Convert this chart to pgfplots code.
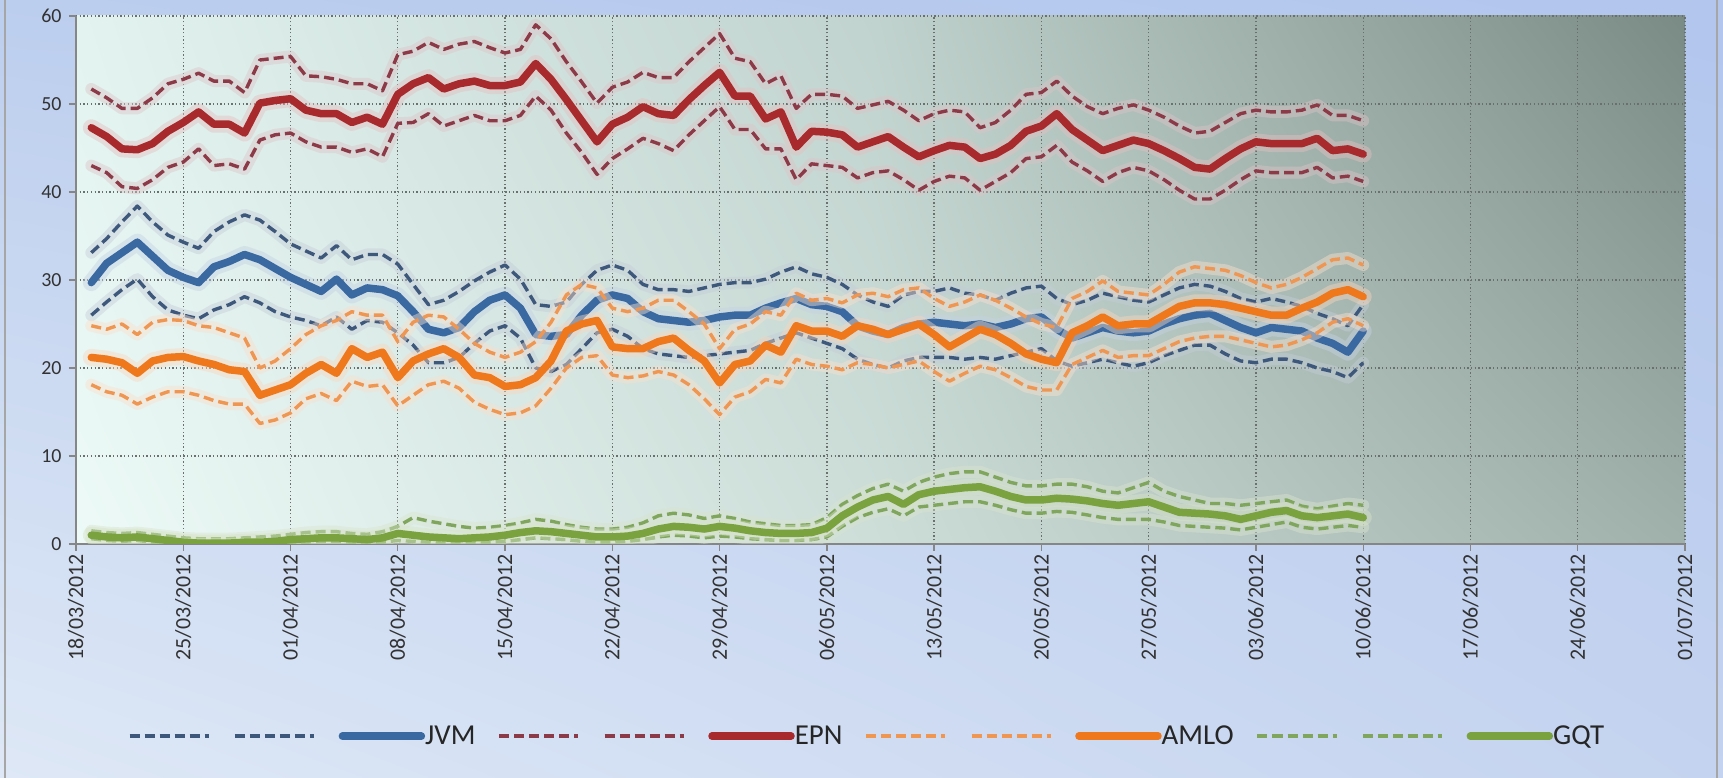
\documentclass[border=0pt]{standalone}
\usepackage{pgfplots}
\pgfplotsset{compat=1.18}
\usepackage{pgfplotstable}
\usetikzlibrary{shadings}
\usepackage{fontspec}
\setmainfont{Carlito}

\definecolor{jvmc}{RGB}{58,105,162}
\definecolor{jvmd}{RGB}{62,88,124}
\definecolor{epnc}{RGB}{168,42,44}
\definecolor{epnd}{RGB}{140,58,72}
\definecolor{amlc}{RGB}{240,120,28}
\definecolor{amld}{RGB}{238,150,82}
\definecolor{gqtc}{RGB}{122,162,62}
\definecolor{gqtd}{RGB}{128,166,94}
\definecolor{axgray}{RGB}{134,134,134}
\definecolor{gridc}{RGB}{105,112,110}
\definecolor{labc}{RGB}{50,50,50}
\definecolor{oUL}{RGB}{188,206,238}
\definecolor{oUR}{RGB}{178,198,238}
\definecolor{oLL}{RGB}{222,232,246}
\definecolor{oLR}{RGB}{196,211,239}
\definecolor{pA}{RGB}{226,243,240}
\definecolor{pB}{RGB}{237,250,247}
\definecolor{pC}{RGB}{193,211,206}
\definecolor{pD}{RGB}{205,222,217}
\definecolor{pE}{RGB}{122,138,132}
\definecolor{pF}{RGB}{160,177,171}

% day 0 = 18/03/2012
\pgfplotstableread{
d up lo mid
1 33.1 26.0 29.7
2 34.7 27.5 31.9
3 36.6 28.9 33.1
4 38.4 30.1 34.3
5 36.6 28.1 32.7
6 35.1 26.6 31.1
7 34.3 26.0 30.3
8 33.6 25.6 29.7
9 35.5 26.6 31.5
10 36.6 27.2 32.1
11 37.4 28.1 32.9
12 36.8 27.4 32.3
13 35.5 26.4 31.3
14 34.1 25.8 30.3
15 33.3 25.4 29.5
16 32.5 24.8 28.7
17 33.9 25.8 30.1
18 32.3 24.4 28.3
19 32.9 25.4 29.1
20 32.9 25.2 28.9
21 31.8 24.0 28.2
22 29.5 22.6 26.4
23 27.2 20.6 24.4
24 27.7 20.6 24.0
25 28.7 21.2 24.6
26 29.9 22.8 26.4
27 30.9 24.2 27.7
28 31.7 24.8 28.3
29 30.1 23.4 26.8
30 27.2 20.0 23.8
31 27.0 19.6 23.6
32 27.5 20.4 23.8
33 29.5 22.2 26.0
34 31.1 24.0 27.7
35 31.7 24.4 28.3
36 31.1 23.6 27.9
37 29.5 22.2 26.4
38 28.9 21.6 25.6
39 28.9 21.4 25.4
40 28.7 21.2 25.2
41 29.1 21.4 25.4
42 29.5 21.6 25.8
43 29.7 21.8 26.0
44 29.7 22.0 26.0
45 30.1 22.8 26.8
46 30.9 23.4 27.4
47 31.5 24.0 27.9
48 30.7 23.4 27.2
49 30.3 22.8 27.0
50 29.5 22.2 26.4
51 28.3 21.0 24.8
52 27.5 20.4 24.2
53 27.0 20.0 23.8
54 28.3 20.8 24.6
55 28.7 21.2 25.0
56 28.7 21.2 25.2
57 29.1 21.2 25.0
58 28.5 21.0 24.8
59 28.3 21.2 25.0
60 27.7 21.0 24.6
61 28.5 21.4 25.0
62 29.1 21.8 25.6
63 29.3 22.2 25.8
64 27.9 20.8 24.4
65 27.2 20.2 23.4
66 27.7 20.6 24.0
67 28.5 21.0 24.6
68 28.1 20.6 24.2
69 27.7 20.2 24.0
70 27.5 20.6 24.2
71 28.3 21.4 25.0
72 29.1 22.0 25.6
73 29.5 22.6 26.0
74 29.3 22.6 26.2
75 28.7 21.6 25.4
76 27.9 20.8 24.6
77 27.5 20.6 24.0
78 27.9 21.0 24.6
79 27.5 21.0 24.4
80 27.0 20.6 24.2
81 26.2 20.0 23.4
82 25.6 19.6 22.8
83 24.8 18.9 21.8
84 27.2 20.6 24.2
}\jvm

\pgfplotstableread{
d up lo mid
1 51.7 43.0 47.3
2 50.7 42.2 46.3
3 49.5 40.6 44.9
4 49.5 40.4 44.8
5 50.7 41.4 45.5
6 52.3 42.8 46.9
7 52.8 43.4 47.9
8 53.5 44.9 49.1
9 52.6 43.0 47.7
10 52.6 43.2 47.7
11 51.3 42.6 46.7
12 55.0 45.9 50.1
13 55.2 46.5 50.4
14 55.4 46.7 50.6
15 53.2 45.7 49.3
16 53.1 45.1 48.9
17 52.8 45.1 48.9
18 52.3 44.5 47.9
19 52.3 44.9 48.5
20 51.5 44.0 47.7
21 55.6 47.8 51.1
22 56.0 47.9 52.3
23 57.0 48.9 53.0
24 56.2 47.5 51.7
25 56.8 48.1 52.3
26 57.1 48.7 52.6
27 56.4 48.1 52.1
28 55.8 48.1 52.1
29 56.2 48.7 52.5
30 59.0 50.9 54.6
31 57.4 49.3 52.8
32 54.8 46.7 50.5
33 52.5 44.5 48.1
34 50.1 42.0 45.7
35 51.9 43.8 47.7
36 52.5 44.9 48.5
37 53.6 46.1 49.7
38 53.0 45.5 48.9
39 53.0 44.7 48.7
40 54.8 46.5 50.5
41 56.4 48.1 52.1
42 58.0 49.7 53.6
43 55.2 47.1 50.9
44 54.8 47.1 50.9
45 52.3 44.9 48.3
46 53.2 44.9 49.1
47 49.5 41.4 45.1
48 51.1 43.2 46.9
49 51.1 43.0 46.8
50 50.9 42.8 46.5
51 49.5 41.6 45.1
52 49.9 42.2 45.7
53 50.3 42.4 46.3
54 49.3 41.4 45.1
55 48.1 40.2 44.0
56 48.9 41.2 44.7
57 49.3 41.8 45.3
58 49.1 41.6 45.1
59 47.3 40.2 43.8
60 47.9 41.2 44.3
61 49.3 42.2 45.3
62 51.1 43.8 46.9
63 51.3 44.0 47.5
64 52.6 45.3 48.9
65 50.9 43.4 47.1
66 49.7 42.4 45.9
67 48.9 41.2 44.7
68 49.5 42.2 45.3
69 49.9 42.8 45.9
70 49.3 42.4 45.5
71 48.5 41.4 44.7
72 47.5 40.2 43.8
73 46.7 39.2 42.8
74 46.9 39.2 42.6
75 47.9 40.2 43.8
76 48.9 41.4 44.9
77 49.3 42.4 45.7
78 49.1 42.2 45.5
79 49.1 42.2 45.5
80 49.3 42.2 45.5
81 49.9 42.8 46.1
82 48.7 41.6 44.7
83 48.7 41.8 44.9
84 48.1 41.2 44.3
}\epn

\pgfplotstableread{
d up lo mid
1 24.8 18.1 21.2
2 24.4 17.3 21.0
3 25.0 16.9 20.6
4 23.8 15.9 19.4
5 25.2 16.7 20.8
6 25.5 17.3 21.2
7 25.4 17.3 21.3
8 24.8 16.9 20.8
9 24.6 16.3 20.4
10 24.0 15.9 19.8
11 23.4 15.9 19.6
12 20.0 13.7 16.9
13 20.8 14.1 17.5
14 22.2 14.9 18.1
15 23.8 16.5 19.4
16 24.8 17.1 20.4
17 25.4 16.3 19.4
18 26.4 18.5 22.2
19 26.0 17.9 21.2
20 26.0 18.1 21.8
21 23.0 15.7 18.9
22 25.2 16.9 20.8
23 26.0 18.1 21.6
24 25.8 18.5 22.2
25 24.4 17.7 21.2
26 22.8 16.1 19.2
27 21.8 15.3 18.9
28 21.2 14.7 17.9
29 21.8 14.9 18.1
30 23.0 15.7 18.9
31 25.2 17.7 20.8
32 28.3 20.0 24.2
33 29.5 21.2 25.0
34 29.1 21.4 25.4
35 26.8 19.2 22.4
36 26.4 18.9 22.2
37 26.8 19.1 22.2
38 27.7 19.6 23.0
39 27.7 19.2 23.4
40 26.4 18.1 22.0
41 25.0 16.5 20.8
42 22.2 14.7 18.3
43 24.4 16.7 20.4
44 25.0 17.3 20.8
45 26.4 18.7 22.6
46 26.0 18.3 21.8
47 28.5 21.0 24.8
48 27.7 20.4 24.2
49 27.9 20.2 24.2
50 27.4 19.8 23.6
51 28.3 20.6 24.8
52 28.5 20.4 24.4
53 28.1 20.0 23.8
54 28.9 20.4 24.4
55 29.1 20.8 25.0
56 27.9 19.6 23.8
57 27.0 18.5 22.4
58 27.5 19.4 23.4
59 28.3 20.2 24.4
60 27.7 19.8 23.8
61 26.8 18.9 22.8
62 25.8 17.9 21.6
63 25.0 17.5 21.0
64 24.6 17.5 20.6
65 27.9 20.4 24.0
66 28.7 21.2 24.8
67 29.9 22.0 25.8
68 28.7 21.2 24.8
69 28.5 21.4 25.0
70 28.3 21.4 25.0
71 29.5 22.2 26.0
72 30.9 23.0 27.0
73 31.5 23.4 27.4
74 31.3 23.6 27.4
75 31.1 23.6 27.2
76 30.5 23.2 26.8
77 29.7 22.8 26.4
78 29.1 22.4 26.0
79 29.5 22.6 26.0
80 30.3 23.2 26.8
81 31.3 24.0 27.5
82 32.3 25.2 28.5
83 32.5 25.6 28.9
84 31.7 24.8 28.1
}\aml

\pgfplotstableread{
d up lo mid
1 1.5 0.6 1.0
2 1.3 0.4 0.8
3 1.2 0.3 0.7
4 1.3 0.4 0.8
5 1.1 0.2 0.6
6 0.9 0.1 0.4
7 0.7 0.0 0.2
8 0.6 0.0 0.1
9 0.6 0.0 0.1
10 0.6 0.0 0.1
11 0.7 0.0 0.2
12 0.8 0.0 0.2
13 0.9 0.0 0.3
14 1.1 0.1 0.5
15 1.3 0.2 0.6
16 1.4 0.3 0.7
17 1.4 0.3 0.7
18 1.2 0.2 0.6
19 1.1 0.1 0.5
20 1.4 0.2 0.7
21 2.0 0.4 1.2
22 3.0 0.3 1.0
23 2.6 0.2 0.8
24 2.3 0.1 0.7
25 2.0 0.1 0.6
26 1.8 0.1 0.7
27 1.9 0.2 0.8
28 2.1 0.3 1.0
29 2.4 0.5 1.3
30 2.8 0.7 1.5
31 2.6 0.6 1.4
32 2.2 0.5 1.2
33 1.9 0.3 1.0
34 1.7 0.2 0.8
35 1.7 0.2 0.8
36 1.9 0.3 0.9
37 2.4 0.5 1.2
38 3.2 0.8 1.7
39 3.5 1.0 2.0
40 3.3 0.9 1.9
41 2.9 0.7 1.7
42 3.2 0.9 2.0
43 2.9 0.8 1.8
44 2.5 0.6 1.5
45 2.3 0.5 1.3
46 2.1 0.4 1.2
47 2.1 0.4 1.2
48 2.2 0.5 1.3
49 3.0 0.8 1.8
50 4.5 2.0 3.2
51 5.5 3.0 4.2
52 6.3 3.6 5.0
53 6.8 4.0 5.4
54 6.0 3.2 4.5
55 7.0 4.2 5.6
56 7.6 4.4 6.0
57 8.0 4.6 6.2
58 8.2 4.8 6.4
59 8.2 4.8 6.5
60 7.6 4.4 6.0
61 7.0 3.9 5.4
62 6.6 3.5 5.0
63 6.6 3.5 5.0
64 6.8 3.7 5.2
65 6.8 3.6 5.1
66 6.5 3.3 4.9
67 6.0 3.0 4.6
68 5.8 2.8 4.4
69 6.4 2.8 4.6
70 7.0 2.8 4.8
71 6.0 2.5 4.2
72 5.4 2.1 3.6
73 5.0 2.0 3.5
74 4.6 1.9 3.4
75 4.6 1.8 3.2
76 4.4 1.6 2.8
77 4.6 1.9 3.2
78 4.8 2.2 3.6
79 5.0 2.5 3.8
80 4.3 1.9 3.2
81 4.0 1.7 3.0
82 4.3 1.9 3.2
83 4.6 2.1 3.4
84 4.4 1.9 3.0
}\gqt

\tikzset{
  dsh/.style={line width=3.4bp, dash pattern=on 10bp off 5bp, line join=round},
  mn/.style={line width=7.5bp, line join=round, line cap=round},
  glw/.style={line width=12bp, opacity=0.45, line join=round, line cap=round},
  glwm/.style={line width=17bp, opacity=0.45, line join=round, line cap=round},
}

\begin{document}
\begin{tikzpicture}[x=1bp,y=1bp]
\path[use as bounding box] (0,0) rectangle (1723,778);
\shade[upper left=oUL, upper right=oUR, lower left=oLL, lower right=oLR] (0,0) rectangle (1723,778);
\draw[color=gray!70, line width=1.5bp] (5,0) -- (5,778);
\draw[color=gray!70, line width=1.5bp] (1717,0) -- (1717,778);
\shade[upper left=pA, lower left=pB, upper right=pC, lower right=pD] (76,234) rectangle (873.5,762);
\shade[upper left=pC, lower left=pD, upper right=pE, lower right=pF] (873,234) rectangle (1685,762);
\begin{axis}[
  at={(76bp,234bp)}, anchor=south west,
  scale only axis, width=1609bp, height=528bp,
  xmin=0, xmax=105, ymin=0, ymax=60,
  xtick={0,7,...,105}, ytick={0,10,...,60},
  xticklabels={18/03/2012,25/03/2012,01/04/2012,08/04/2012,15/04/2012,22/04/2012,29/04/2012,06/05/2012,13/05/2012,20/05/2012,27/05/2012,03/06/2012,10/06/2012,17/06/2012,24/06/2012,01/07/2012},
  /pgf/number format/assume math mode=true,
  axis x line*=bottom, axis y line*=left,
  axis line style={-, color=axgray, line width=1.4bp},
  tick align=outside, major tick length=7bp,
  tick style={color=axgray, line width=1.3bp},
  xmajorgrids, ymajorgrids,
  major grid style={color=gridc, line width=1.3bp, dash pattern=on 1.3bp off 2.4bp},
  xticklabel style={rotate=90, anchor=east, font=\fontsize{22}{24}\selectfont, text=labc},
  yticklabel style={font=\fontsize{20}{22}\selectfont, text=labc, xshift=-4bp},
  legend columns=12,
  legend image code/.code={\draw[#1] (0bp,0bp) -- (79bp,0bp);},
  legend style={at={(axis description cs:0.491,-0.364)}, anchor=center, draw=none, fill=none,
    font=\fontsize{29}{32}\selectfont, text=black!85,
    nodes={inner xsep=0bp, inner ysep=2bp},
    /tikz/every odd column/.append style={column sep=0bp},
    /tikz/every even column/.append style={column sep=22bp}},
]
% JVM
\addplot[glw, jvmd!30!white, forget plot] table[x=d,y=up]{\jvm};
\addplot[dsh, jvmd] table[x=d,y=up]{\jvm};
\addlegendentry{\hspace{15bp}}
\addplot[glw, jvmd!30!white, forget plot] table[x=d,y=lo]{\jvm};
\addplot[dsh, jvmd] table[x=d,y=lo]{\jvm};
\addlegendentry{\hspace{15bp}}
\addplot[glwm, jvmc!30!white, forget plot] table[x=d,y=mid]{\jvm};
\addplot[mn, jvmc] table[x=d,y=mid]{\jvm};
\addlegendentry{JVM}
% EPN
\addplot[glw, epnd!30!white, forget plot] table[x=d,y=up]{\epn};
\addplot[dsh, epnd] table[x=d,y=up]{\epn};
\addlegendentry{\hspace{15bp}}
\addplot[glw, epnd!30!white, forget plot] table[x=d,y=lo]{\epn};
\addplot[dsh, epnd] table[x=d,y=lo]{\epn};
\addlegendentry{\hspace{15bp}}
\addplot[glwm, epnc!30!white, forget plot] table[x=d,y=mid]{\epn};
\addplot[mn, epnc] table[x=d,y=mid]{\epn};
\addlegendentry{EPN}
% AMLO
\addplot[glw, amld!30!white, forget plot] table[x=d,y=up]{\aml};
\addplot[dsh, amld] table[x=d,y=up]{\aml};
\addlegendentry{\hspace{15bp}}
\addplot[glw, amld!30!white, forget plot] table[x=d,y=lo]{\aml};
\addplot[dsh, amld] table[x=d,y=lo]{\aml};
\addlegendentry{\hspace{15bp}}
\addplot[glwm, amlc!30!white, forget plot] table[x=d,y=mid]{\aml};
\addplot[mn, amlc] table[x=d,y=mid]{\aml};
\addlegendentry{AMLO}
% GQT
\addplot[glw, gqtd!30!white, forget plot] table[x=d,y=up]{\gqt};
\addplot[dsh, gqtd] table[x=d,y=up]{\gqt};
\addlegendentry{\hspace{15bp}}
\addplot[glw, gqtd!30!white, forget plot] table[x=d,y=lo]{\gqt};
\addplot[dsh, gqtd] table[x=d,y=lo]{\gqt};
\addlegendentry{\hspace{15bp}}
\addplot[glwm, gqtc!30!white, forget plot] table[x=d,y=mid]{\gqt};
\addplot[mn, gqtc] table[x=d,y=mid]{\gqt};
\addlegendentry{GQT}
\end{axis}
\end{tikzpicture}
\end{document}
